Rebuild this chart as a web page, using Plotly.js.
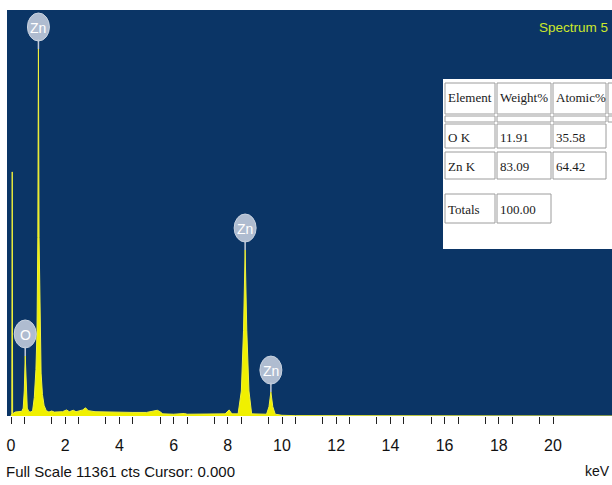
<!DOCTYPE html>
<html>
<head>
<meta charset="utf-8">
<script src="https://cdn.plot.ly/plotly-3.0.1.min.js"></script>
<style>
  html, body { margin: 0; padding: 0; background: #ffffff; }
  #chart { width: 612px; height: 485px; }
</style>
</head>
<body>
<div id="chart"></div>
<script>
// EDS spectrum: energy (keV) vs. counts
const energyKeV = [
  0.00, 0.03, 0.045, 0.06, 0.15, 0.30, 0.40, 0.45, 0.49, 0.525, 0.56, 0.60, 0.66, 0.74,
  0.80, 0.86, 0.92, 0.96, 0.99, 1.012, 1.035, 1.07, 1.11, 1.16, 1.22, 1.30, 1.40,
  1.50, 1.60, 1.90, 2.05, 2.15, 2.30, 2.40, 2.65, 2.75, 2.85, 3.10, 3.50, 4.00, 4.50,
  5.00, 5.40, 5.50, 5.60, 6.00, 6.40, 6.50, 7.00, 7.50, 7.90, 8.05, 8.15,
  8.38, 8.50, 8.58, 8.64, 8.70, 8.78, 8.88, 9.10, 9.43, 9.52, 9.59, 9.66, 9.75,
  10.00, 10.50, 22.20
];
const counts = [
  0, 60, 6830, 60, 110, 120, 130, 220, 700, 1680, 700, 220, 120, 110,
  160, 520, 1300, 2400, 5000, 10270, 5000, 2300, 1200, 600, 300, 150, 110,
  140, 110, 120, 170, 120, 160, 120, 170, 230, 150, 120, 110, 110, 100,
  100, 160, 120, 60, 50, 70, 50, 50, 50, 60, 170, 60,
  60, 700, 2400, 4645, 2400, 700, 60, 50, 50, 260, 670, 260, 50,
  20, 10, 0
];

// Element line markers
const markerLabels = ['O', 'Zn', 'Zn', 'Zn'];
const markerEnergies = [0.525, 1.012, 8.64, 9.59];

// Quantification table
const tableHeader = ['Element', 'Weight%', 'Atomic%'];
const tableElements = ['O K', 'Zn K'];
const weightPct = [11.91, 83.09];
const atomicPct = [35.58, 64.42];
const totalWeight = 100.00;

// Axis
const fullScale = 11361;
const tickVals = [0, 2, 4, 6, 8, 10, 12, 14, 16, 18, 20];
const tickText = ['0', '2', '4', '6', '8', '10', '12', '14', '16', '18', '20'];

// ---- geometry helpers (page pixels -> paper fractions) ----
const W = 612, H = 485;
const M = { l: 7, r: 0, t: 10, b: 69 };
const PW = W - M.l - M.r, PH = H - M.t - M.b;
const px = v => (v - M.l) / PW;
const py = v => (H - M.b - v) / PH;

const sans = 'Liberation Sans, Arial, sans-serif';
const serif = 'Liberation Serif, Times New Roman, serif';

const shapes = [];
const annotations = [];

// element markers: stem + badge + symbol above each peak
markerEnergies.forEach((e, i) => {
  const c = counts[energyKeV.indexOf(e)];
  shapes.push({
    type: 'line', xref: 'x', yref: 'y',
    xsizemode: 'pixel', ysizemode: 'pixel', xanchor: e, yanchor: c,
    x0: 0, x1: 0, y0: 0, y1: 10,
    line: { color: '#c3cbd9', width: 1.5 }
  });
  shapes.push({
    type: 'circle', xref: 'x', yref: 'y',
    xsizemode: 'pixel', ysizemode: 'pixel', xanchor: e, yanchor: c,
    x0: -11, x1: 11, y0: 8, y1: 36,
    fillcolor: 'rgba(184,196,214,0.95)',
    line: { color: 'rgba(200,210,224,1)', width: 1 }
  });
  annotations.push({
    x: e, y: c, xref: 'x', yref: 'y', yshift: 21, showarrow: false,
    text: markerLabels[i],
    font: { family: sans, size: 14, color: '#ffffff' }
  });
});

// quantification table
function rect(x0, y0, x1, y1, fill, line) {
  shapes.push({
    type: 'rect', xref: 'paper', yref: 'paper', layer: 'above',
    x0: px(x0), x1: px(x1), y0: py(y1), y1: py(y0),
    fillcolor: fill, line: line
  });
}
function cellText(x, y, t) {
  annotations.push({
    x: px(x), y: py(y), xref: 'paper', yref: 'paper',
    xanchor: 'left', yanchor: 'middle', showarrow: false, text: t,
    font: { family: serif, size: 13, color: '#1a1a1a' }
  });
}
rect(443, 79, 616, 249, '#ffffff', { width: 0 });
const cellLine = { color: '#9c9c9c', width: 1 };
const colsX = [[445, 495], [497, 551], [553, 606], [608, 620]];
const rowsY = { head: [83, 114], gap: [116, 122], r1: [124, 148], r2: [152, 179], tot: [194, 223] };
colsX.forEach(c => { rect(c[0], rowsY.head[0], c[1], rowsY.head[1], '#ffffff', cellLine); });
colsX.forEach(c => { rect(c[0], rowsY.gap[0], c[1], rowsY.gap[1], '#ffffff', cellLine); });
[rowsY.r1, rowsY.r2].forEach(r => {
  colsX.slice(0, 3).forEach(c => { rect(c[0], r[0], c[1], r[1], '#ffffff', cellLine); });
});
colsX.slice(0, 2).forEach(c => { rect(c[0], rowsY.tot[0], c[1], rowsY.tot[1], '#ffffff', cellLine); });

tableHeader.forEach((h, i) => cellText(colsX[i][0] + 1, 98, h));
[rowsY.r1, rowsY.r2].forEach((r, k) => {
  const yc = (r[0] + r[1]) / 2 + 1;
  cellText(colsX[0][0] + 1, yc, tableElements[k]);
  cellText(colsX[1][0] + 1, yc, weightPct[k].toFixed(2));
  cellText(colsX[2][0] + 1, yc, atomicPct[k].toFixed(2));
});
cellText(colsX[0][0] + 1, 209, 'Totals');
cellText(colsX[1][0] + 1, 209, totalWeight.toFixed(2));

// spectrum name and footer
annotations.push({
  x: px(610), y: py(27), xref: 'paper', yref: 'paper', xanchor: 'right', yanchor: 'middle',
  showarrow: false, text: 'Spectrum 5',
  font: { family: sans, size: 13.5, color: '#cde82a' }
});
annotations.push({
  x: px(4), y: py(471), xref: 'paper', yref: 'paper', xanchor: 'left', yanchor: 'middle',
  showarrow: false, text: 'Full Scale ' + fullScale + ' cts Cursor: 0.000',
  font: { family: sans, size: 15, color: '#111111' }
});
annotations.push({
  x: px(612), y: py(471), xref: 'paper', yref: 'paper', xanchor: 'right', yanchor: 'middle',
  showarrow: false, text: 'keV',
  font: { family: sans, size: 14, color: '#111111' }
});

// minor tick positions every 0.5 keV
const minorVals = [];
for (let v = 0.5; v < 20; v += 1) minorVals.push(v);

const kevPerPx = 1 / 27.1;
const trace = {
  type: 'scatter', mode: 'lines',
  x: energyKeV, y: counts,
  fill: 'tozeroy',
  fillcolor: '#f0f000',
  line: { color: '#f2f23a', width: 1 },
  hoverinfo: 'skip'
};

const layout = {
  width: W, height: H,
  margin: M,
  paper_bgcolor: '#ffffff',
  plot_bgcolor: '#0b3566',
  showlegend: false,
  xaxis: {
    range: [-4 * kevPerPx, (W - M.l - 4) * kevPerPx],
    tickmode: 'array', tickvals: tickVals, ticktext: tickText,
    ticks: 'outside', ticklen: 7, tickwidth: 1, tickcolor: '#222222',
    minor: { tickvals: minorVals, ticks: 'outside', ticklen: 7, tickwidth: 1, tickcolor: '#222222', showgrid: false },
    showgrid: false, zeroline: false, showline: false,
    tickfont: { family: sans, size: 16, color: '#111111' },
    ticklabelstandoff: 8,
    fixedrange: true
  },
  yaxis: {
    range: [0, fullScale], visible: false, fixedrange: true
  },
  shapes: shapes,
  annotations: annotations
};

Plotly.newPlot('chart', [trace], layout, { staticPlot: true, displayModeBar: false });
</script>
</body>
</html>
